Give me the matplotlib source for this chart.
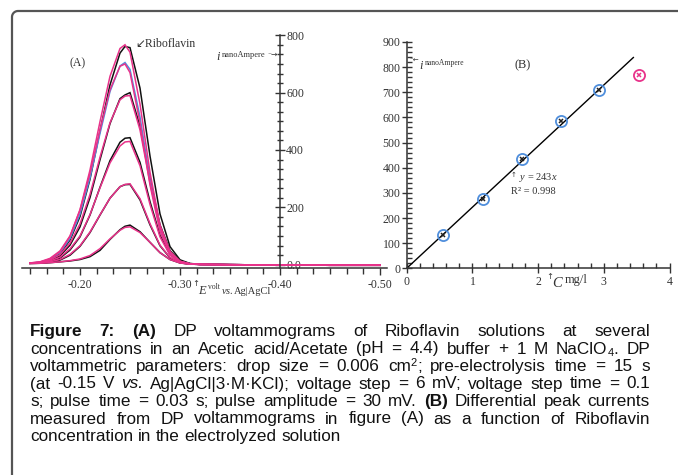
import matplotlib
matplotlib.use('Agg')
import matplotlib.pyplot as plt
from matplotlib.ticker import MultipleLocator
from matplotlib.lines import Line2D
import numpy as np

W, H = 678, 475
SERIF = ['Liberation Serif', 'DejaVu Serif', 'DejaVu Sans']
SANS = ['Liberation Sans', 'DejaVu Sans']
plt.rcParams['font.family'] = SERIF
plt.rcParams['mathtext.fontset'] = 'custom'
plt.rcParams['mathtext.rm'] = 'Liberation Serif'
plt.rcParams['mathtext.it'] = 'Liberation Serif:italic'

# ---------------- data ----------------
# (A) DP voltammograms: potential (V vs Ag|AgCl) and currents (nA)
E = [-0.150, -0.160, -0.170, -0.180, -0.190, -0.200, -0.210, -0.220, -0.230, -0.240,
     -0.245, -0.250, -0.260, -0.270, -0.280, -0.290, -0.300, -0.310, -0.320, -0.350,
     -0.400, -0.450, -0.500]
black1 = [5, 8, 17, 38, 86, 168, 298, 467, 627, 738, 761, 757, 616, 379, 177, 63, 17, 4, 2, 0, -1, -2, -2]
pink1 = [6, 9, 20, 45, 99, 192, 330, 499, 657, 754, 767, 741, 560, 322, 138, 46, 12, 3, 1, 0, -1, -2, -2]
blue2 = [5, 9, 19, 42, 91, 176, 303, 458, 604, 693, 705, 681, 515, 296, 127, 42, 11, 3, 1, 0, -1, -2, -2]
pink2 = [6, 10, 22, 48, 100, 190, 318, 470, 610, 692, 700, 670, 495, 278, 116, 37, 9, 2, 1, 0, -1, -2, -2]
black3 = [5, 7, 14, 31, 68, 132, 234, 366, 492, 579, 592, 600, 483, 298, 139, 49, 13, 4, 1, 0, -1, -2, -2]
pink3 = [5, 8, 16, 35, 75, 142, 245, 375, 495, 575, 588, 590, 470, 285, 130, 45, 12, 3, 1, 0, -1, -2, -2]
black4 = [5, 6, 12, 23, 51, 97, 173, 270, 363, 427, 441, 443, 357, 220, 103, 36, 10, 3, 1, 0, -1, -2, -2]
pink4 = [5, 7, 13, 26, 55, 100, 175, 268, 355, 414, 428, 430, 345, 210, 97, 33, 9, 3, 1, 0, -1, -2, -2]
black5 = [5, 6, 9, 16, 33, 64, 112, 173, 232, 272, 279, 280, 226, 139, 66, 24, 7, 2, 1, 0, -1, -2, -2]
pink5 = [5, 6, 10, 18, 36, 66, 114, 174, 232, 272, 280, 282, 230, 143, 68, 25, 7, 2, 1, 0, -1, -2, -2]
black6 = [4, 5, 7, 10, 13, 18, 28, 50, 88, 122, 134, 138, 115, 78, 42, 18, 6, 2, 1, 0, -1, -2, -2]
pink6 = [4, 5, 7, 10, 14, 20, 32, 56, 90, 120, 130, 132, 112, 78, 42, 18, 6, 2, 1, 0, -1, -2, -2]

# (B) calibration: concentration (mg/l) vs peak current (nA)
conc = [0.55, 1.16, 1.75, 2.35, 2.93]
peak = [132, 276, 434, 587, 711]
out_conc = [3.54]
out_peak = [767]
slope = 243
fit_x = [0, 3.45]

xticks_A = [-0.20, -0.30, -0.40, -0.50]
xlabels_A = ['-0.20', '-0.30', '-0.40', '-0.50']
yticks_A = [0, 200, 400, 600, 800]
ylabels_A = ['0.0', '200', '400', '600', '800']
xticks_B = [0, 1, 2, 3, 4]
yticks_B = [0, 100, 200, 300, 400, 500, 600, 700, 800, 900]

PINK = '#E8328A'
BLUE = '#4F8EDC'
BLACK = '#111111'
AXC = '#333333'

fig = plt.figure(figsize=(W / 100, H / 100), dpi=100)


def fx(px):
    return px / W


def fy(py):
    return 1 - py / H


# ---------------- frame (left and top edges, rounded corner) ----------------
r = 6
th = np.linspace(np.pi, np.pi / 2, 12)
cx, cy = 12 + r, 11 + r
arc_x = [cx + r * np.cos(t) for t in th]
arc_y = [cy - r * np.sin(t) for t in th]
fx_pts = [12] + arc_x + [680]
fy_pts = [480] + arc_y + [11]
fig.add_artist(Line2D([fx(v) for v in fx_pts], [fy(v) for v in fy_pts],
                      transform=fig.transFigure, color='#555555', lw=1.6, clip_on=False))

# ---------------- panel A ----------------
axL, axR, axB, axT = 22, 387, 268.3, 35.3
ax1 = fig.add_axes([fx(axL), fy(axB), (axR - axL) / W, (axB - axT) / H])
ax1.patch.set_alpha(0)
ax1.set_xlim(-0.142, -0.507)
ax1.set_ylim(-12.6, 800)

for ys, c in [(black1, BLACK), (black3, BLACK), (black4, BLACK), (black5, BLACK), (black6, BLACK),
              (blue2, BLUE),
              (pink1, PINK), (pink2, PINK), (pink3, PINK), (pink4, PINK), (pink5, PINK), (pink6, PINK)]:
    ax1.plot(E, ys, color=c, lw=1.1, solid_joinstyle='miter')

ax1.spines['top'].set_visible(False)
ax1.spines['left'].set_visible(False)
ax1.spines['right'].set_position(('data', -0.40))
ax1.spines['right'].set_color(AXC)
ax1.spines['bottom'].set_color(AXC)
ax1.spines['right'].set_linewidth(1.1)
ax1.spines['bottom'].set_linewidth(1.1)
ax1.yaxis.tick_right()
ax1.set_xticks(xticks_A, labels=xlabels_A)
ax1.set_yticks(yticks_A, labels=ylabels_A)
ax1.xaxis.set_minor_locator(MultipleLocator(0.1 / 6))
ax1.yaxis.set_minor_locator(MultipleLocator(200 / 6))
ax1.tick_params(axis='x', which='major', direction='out', length=5, width=1, color=AXC,
                labelsize=8.5, labelcolor='#333333', pad=3)
ax1.tick_params(axis='x', which='minor', direction='out', length=4, width=1, color=AXC)
ax1.tick_params(axis='y', which='major', direction='inout', length=7, width=1, color=AXC,
                labelsize=8.5, labelcolor='#333333', pad=1)
ax1.tick_params(axis='y', which='minor', direction='inout', length=5, width=1, color=AXC)

# ---------------- panel B ----------------
bL, bR, bB, bT = 406.7, 669.5, 268.3, 42
ax2 = fig.add_axes([fx(bL), fy(bB), (bR - bL) / W, (bB - bT) / H])
ax2.patch.set_alpha(0)
ax2.set_xlim(0, 4)
ax2.set_ylim(0, 900)
ax2.plot(fit_x, [slope * v for v in fit_x], color='black', lw=1.0)
ax2.plot(conc, peak, 'o', mfc='none', mec=BLUE, ms=8, mew=1.3, clip_on=False)
ax2.plot(conc, peak, 'x', color='#222222', ms=3.5, mew=1.1, clip_on=False)
ax2.plot(out_conc, out_peak, 'o', mfc='none', mec=PINK, ms=8, mew=1.3, clip_on=False)
ax2.plot(out_conc, out_peak, 'x', color=PINK, ms=3.5, mew=1.1, clip_on=False)
for s in ('top', 'right'):
    ax2.spines[s].set_visible(False)
for s in ('left', 'bottom'):
    ax2.spines[s].set_color(AXC)
    ax2.spines[s].set_linewidth(1.1)
ax2.set_xticks(xticks_B, labels=[str(v) for v in xticks_B])
ax2.set_yticks(yticks_B, labels=[str(v) for v in yticks_B])
ax2.xaxis.set_minor_locator(MultipleLocator(0.2))
ax2.yaxis.set_minor_locator(MultipleLocator(20))
ax2.tick_params(which='major', direction='inout', length=7, width=1, color=AXC,
                labelsize=8.5, labelcolor='#333333')
ax2.tick_params(axis='x', which='major', pad=2)
ax2.tick_params(axis='y', which='major', pad=1)
ax2.tick_params(which='minor', direction='in', length=3.5, width=1, color=AXC)


# ---------------- annotation texts ----------------
def ftext(x, y, s, size, ha='left', va='center', **kw):
    kw.setdefault('family', SERIF)
    kw.setdefault('color', '#333333')
    fig.text(fx(x), fy(y), s, fontsize=size, ha=ha, va=va, **kw)


ftext(78, 63, '(A)', 8.5, ha='center')
ftext(135, 44, '↙Riboflavin', 8.5, family=['Liberation Serif', 'DejaVu Sans'])
ftext(216, 57, r'$i$', 9)
ftext(222, 55, 'nanoAmpere', 6)
ftext(278, 54, '⁻→', 5.5, ha='right', family=['DejaVu Sans'])
ftext(192.5, 283, '↑', 6, family=['DejaVu Sans'])
ftext(198.5, 291.5, r'$E$', 9)
ftext(208.5, 287, 'volt', 5.5)
ftext(221, 292, r'$vs.$', 7.5)
ftext(233.5, 291.5, 'Ag|AgCl', 7.5)

ftext(410, 61, '⁻←', 5, family=['DejaVu Sans'])
ftext(419, 66, r'$i$', 9)
ftext(424.5, 63, 'nanoAmpere', 5.5)
ftext(522.7, 65, '(B)', 9, ha='center')
ftext(511, 175, '↑', 5, family=['DejaVu Sans'])
ftext(519, 177, r'$y$ = 243$x$', 7.5)
ftext(511, 191, 'R² = 0.998', 7.5)
ftext(546.5, 276.5, '↑', 6, family=['DejaVu Sans'])
ftext(552.5, 283, r'$C$', 10.5)
ftext(565, 280.5, 'mg/l', 9)

# ---------------- caption (justified) ----------------
CAP_SIZE = 12.3
renderer = fig.canvas.get_renderer()


def words(s):
    return [[(w, 'n')] for w in s.split()]


cap_lines = [
    [[('Figure', 'b')], [('7:', 'b')], [('(A)', 'b')]] + words('DP voltammograms of Riboflavin solutions at several'),
    words('concentrations in an Acetic acid/Acetate (pH = 4.4) buffer + 1 M')
    + [[('NaClO', 'n'), ('4', 'sub'), ('.', 'n')]] + words('DP'),
    words('voltammetric parameters: drop size = 0.006') + [[('cm', 'n'), ('2', 'sup'), (';', 'n')]]
    + words('pre-electrolysis time = 15 s'),
    words('(at -0.15 V') + [[('vs.', 'i')]] + words('Ag|AgCl|3·M·KCl); voltage step = 6 mV; voltage step time = 0.1'),
    words('s; pulse time = 0.03 s; pulse amplitude = 30 mV.') + [[('(B)', 'b')]] + words('Differential peak currents'),
    words('measured from DP voltammograms in figure (A) as a function of Riboflavin'),
    words('concentration in the electrolyzed solution'),
]
baselines = [336, 353.5, 371, 388.5, 406, 423.5, 441]
X0, X1 = 30, 650


def make_run(txt, style):
    kw = dict(family=SANS, fontsize=CAP_SIZE, color='#111111', va='baseline', ha='left')
    if style == 'b':
        kw['weight'] = 'bold'
    if style == 'i':
        kw['style'] = 'italic'
    if style in ('sub', 'sup'):
        kw['fontsize'] = 8
    t = fig.text(0, 0, txt, **kw)
    w = t.get_window_extent(renderer).width
    return t, w


space_w = 0.278 * CAP_SIZE * 100 / 72
for li, (line, base) in enumerate(zip(cap_lines, baselines)):
    built = []
    for word in line:
        runs = [(make_run(txt, st), st) for txt, st in word]
        built.append((runs, sum(r[0][1] for r in runs)))
    total = sum(b[1] for b in built)
    if li < len(cap_lines) - 1 and len(built) > 1:
        gap = (X1 - X0 - total) / (len(built) - 1)
    else:
        gap = space_w
    x = X0
    for runs, wsum in built:
        for (t, w), st in runs:
            dy = 0
            if st == 'sub':
                dy = 3
            elif st == 'sup':
                dy = -5
            t.set_position((fx(x), fy(base + dy)))
            x += w
        x += gap

fig.savefig('out.png', dpi=100)
